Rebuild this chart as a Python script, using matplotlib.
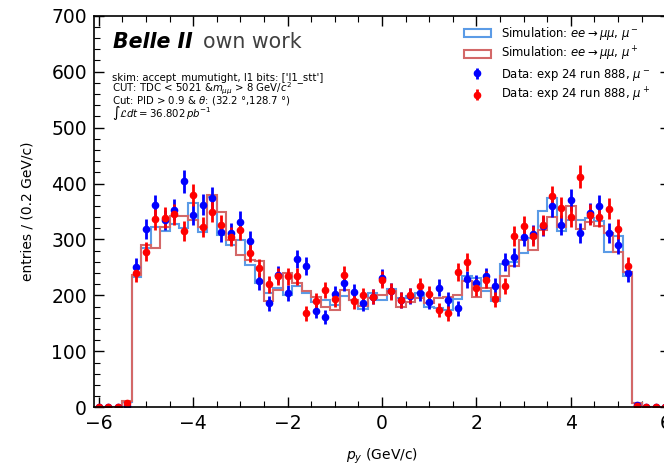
import numpy as np
import matplotlib
matplotlib.use("Agg")
import matplotlib.pyplot as plt
from matplotlib.ticker import MultipleLocator

# bin centres (GeV/c), bin width 0.2
centers = np.round(np.arange(-6.0, 6.0001, 0.2), 1)
edges = np.round(np.arange(-6.1, 6.1001, 0.2), 1)

# Simulation mu- (blue step)
sim_mum = [0, 0, 0, 10,
           233, 284, 323, 315, 327, 321, 365, 314, 376, 308, 290, 299, 254, 223,
           204, 213, 201, 217, 205, 189, 191, 183, 199, 191, 175, 204, 191,
           211, 195, 199, 205, 180, 177, 174, 194, 234, 232, 208, 190, 256, 259,
           276, 302, 351, 375, 315, 335, 335, 338, 333, 277, 306, 234,
           8, 0, 0, 0]
# Simulation mu+ (red step)
sim_mup = [0, 0, 0, 12,
           236, 290, 284, 323, 342, 342, 335, 323, 380, 350, 299, 272, 263, 261,
           190, 210, 240, 222, 207, 198, 180, 174, 210, 192, 181, 195, 201,
           207, 180, 189, 195, 187, 195, 198, 201, 225, 198, 213, 198, 234, 253,
           299, 281, 317, 341, 322, 360, 319, 332, 324, 312, 278, 242,
           8, 0, 0, 0]
# Data mu- (blue points)
data_mum = [0, 0, 0, 3,
            251, 318, 361, 335, 353, 404, 344, 362, 374, 314, 311, 332, 298, 225,
            186, 237, 205, 265, 253, 172, 161, 203, 223, 206, 186, 198, 232,
            208, 192, 199, 204, 189, 214, 192, 177, 229, 222, 234, 216, 260, 268,
            305, 309, 324, 359, 326, 371, 312, 347, 360, 312, 291, 240,
            5, 0, 0, 0]
# Data mu+ (red points)
data_mup = [0, 0, 0, 8,
            240, 278, 336, 339, 345, 315, 380, 323, 350, 326, 305, 317, 276, 249,
            220, 234, 234, 234, 168, 190, 210, 194, 237, 190, 200, 198, 228,
            207, 192, 200, 217, 202, 174, 168, 242, 259, 214, 228, 193, 217, 306,
            324, 306, 326, 377, 357, 341, 412, 344, 341, 355, 318, 253,
            3, 1, 1, 0]

labels = [r"Simulation: $ee \rightarrow \mu\mu$, $\mu^-$",
          r"Simulation: $ee \rightarrow \mu\mu$, $\mu^+$",
          r"Data: exp 24 run 888, $\mu^-$",
          r"Data: exp 24 run 888, $\mu^+$"]

info_lines = ["skim: accept_mumutight, l1 bits: ['l1_stt']",
              r"CUT: TDC < 5021 &$m_{\mu\mu}$ > 8 GeV/$c^2$",
              r"Cut: PID > 0.9 & $\theta$: (32.2 °,128.7 °)",
              r"$\int\mathcal{L}dt = 36.802\,pb^{-1}$"]

fig = plt.figure(figsize=(6.64, 4.69), dpi=100)
ax = fig.add_axes([94/664, (469-407.3)/469, 576/664, 391.6/469])

ax.hist(centers, bins=edges, weights=sim_mum, histtype='step',
        color='#5b9be6', lw=1.5, label=labels[0])
ax.hist(centers, bins=edges, weights=sim_mup, histtype='step',
        color='#d36868', lw=1.5, label=labels[1])
ax.errorbar(centers, data_mum, yerr=np.sqrt(data_mum), fmt='o', color='blue',
            ms=4.5, elinewidth=2, capsize=0, label=labels[2])
ax.errorbar(centers, data_mup, yerr=np.sqrt(data_mup), fmt='o', color='red',
            ms=4.5, elinewidth=2, capsize=0, label=labels[3])

ax.set_xlim(-6.1, 6.1)
ax.set_ylim(0, 700)
ax.xaxis.set_major_locator(MultipleLocator(2))
ax.xaxis.set_minor_locator(MultipleLocator(0.5))
ax.yaxis.set_major_locator(MultipleLocator(100))
ax.yaxis.set_minor_locator(MultipleLocator(20))
ax.tick_params(which='both', direction='in', top=True, right=True)
ax.tick_params(which='major', length=7, width=1, labelsize=13.5, pad=5)
ax.tick_params(which='minor', length=4, width=0.8)
for s in ax.spines.values():
    s.set_linewidth(1.2)

ax.set_xlabel(r"$p_y$ (GeV/c)", fontsize=10, labelpad=10)
ax.set_ylabel("entries / (0.2 GeV/c)", fontsize=10, labelpad=12)

ax.text(0.033, 0.933, "Belle II", transform=ax.transAxes, fontsize=14.8,
        fontweight='bold', fontstyle='italic', va='center', ha='left')
ax.text(0.189, 0.933, "own work", transform=ax.transAxes, fontsize=14.8,
        color='#404040', va='center', ha='left')
for i, line in enumerate(info_lines):
    ax.text(0.031, 0.843 - i * 0.0302, line, transform=ax.transAxes,
            fontsize=7.3, va='center', ha='left')

ax.legend(loc='upper right', bbox_to_anchor=(0.974, 0.989), fontsize=8.4,
          frameon=False, borderaxespad=0, labelspacing=0.28,
          handlelength=2.3, handletextpad=0.9)

fig.savefig("out.png", dpi=100)
